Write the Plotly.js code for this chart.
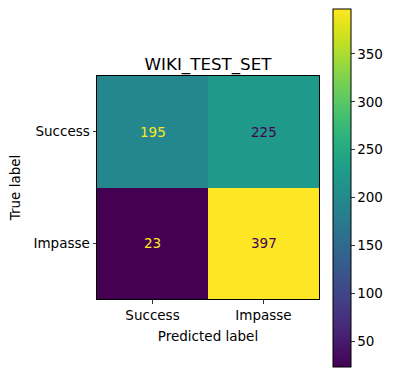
<!DOCTYPE html>
<html>
<head>
<meta charset="utf-8">
<script src="https://cdn.plot.ly/plotly-3.0.1.min.js"></script>
<style>html,body{margin:0;padding:0;background:#fff}#plot{width:397px;height:376px}</style>
</head>
<body>
<div id="plot"></div>
<script>
var predictedLabels = ["Success", "Impasse"];
var trueLabels = ["Success", "Impasse"];
var row_success = [195, 225];
var row_impasse = [23, 397];
var colorbarTicks = [50, 100, 150, 200, 250, 300, 350];
var chartTitle = "WIKI_TEST_SET";

var z = [row_success, row_impasse];
var zmin = 23, zmax = 397;
var thresh = (zmin + zmax) / 2;

var viridis = [
 [0.0,'#440154'],[0.05,'#471365'],[0.1,'#482475'],[0.15,'#463480'],[0.2,'#414487'],
 [0.25,'#3b528b'],[0.3,'#355f8d'],[0.35,'#2f6c8e'],[0.4,'#2a788e'],[0.45,'#25848e'],
 [0.5,'#21918c'],[0.55,'#1e9c89'],[0.6,'#22a884'],[0.65,'#2fb47c'],[0.7,'#44bf70'],
 [0.75,'#5ec962'],[0.8,'#7ad151'],[0.85,'#9bd93c'],[0.9,'#bddf26'],[0.95,'#dfe318'],[1.0,'#fde725']
];

var annotations = [];
for (var i = 0; i < trueLabels.length; i++) {
  for (var j = 0; j < predictedLabels.length; j++) {
    var v = z[i][j];
    annotations.push({
      x: predictedLabels[j], y: trueLabels[i], xref: 'x', yref: 'y',
      text: String(v), showarrow: false,
      font: {family: 'DejaVu Sans', size: 13.5, color: v < thresh ? '#fde725' : '#440154'}
    });
  }
}

var font = {family: 'DejaVu Sans', size: 13.5, color: '#000'};

var trace = {
  type: 'heatmap',
  x: predictedLabels, y: trueLabels, z: z,
  zmin: zmin, zmax: zmax,
  colorscale: viridis,
  hoverinfo: 'none',
  colorbar: {
    thickness: 18, thicknessmode: 'pixels',
    len: 358, lenmode: 'pixels',
    x: 1.063, xanchor: 'left', xref: 'paper',
    y: 0.498, yanchor: 'middle', yref: 'paper',
    xpad: 0, ypad: 0,
    outlinewidth: 1, outlinecolor: '#000',
    tickvals: colorbarTicks, ticks: 'outside', ticklen: 3.5, tickwidth: 0.8, tickcolor: '#000',
    tickfont: font
  }
};

var layout = {
  width: 397, height: 376,
  margin: {l: 97, r: 78, t: 76, b: 77},
  paper_bgcolor: '#fff', plot_bgcolor: '#fff',
  font: font,
  title: {text: chartTitle, font: {family: 'DejaVu Sans', size: 16.7, color: '#000'},
          x: 0.5, xanchor: 'center', xref: 'paper', y: 1, yref: 'paper', yanchor: 'bottom', pad: {b: 6}},
  xaxis: {
    title: {text: 'Predicted label', font: font, standoff: 9},
    type: 'category', range: [-0.5, 1.5], showgrid: false, zeroline: false,
    showline: true, mirror: true, linecolor: '#000', linewidth: 1,
    ticks: 'outside', ticklen: 3.5, tickwidth: 0.8, tickcolor: '#000', tickfont: font
  },
  yaxis: {
    title: {text: 'True label', font: font, standoff: 9},
    type: 'category', range: [1.5, -0.5], showgrid: false, zeroline: false,
    showline: true, mirror: true, linecolor: '#000', linewidth: 1,
    ticks: 'outside', ticklen: 3.5, tickwidth: 0.8, tickcolor: '#000', tickfont: font
  },
  annotations: annotations
};

Plotly.newPlot('plot', [trace], layout, {displayModeBar: false, staticPlot: true});
</script>
</body>
</html>
